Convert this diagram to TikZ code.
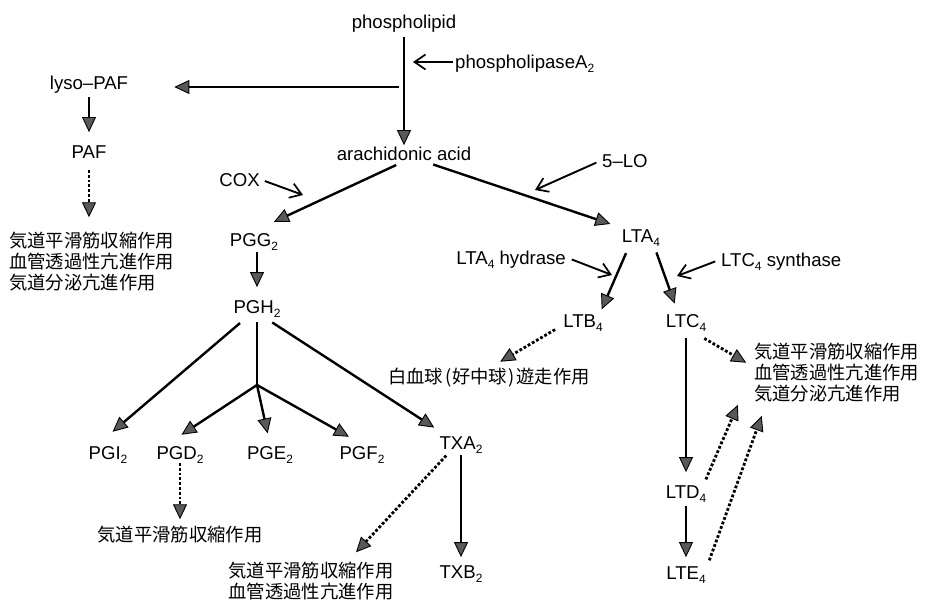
\documentclass[tikz,border=0pt]{standalone}
\usepackage{fontspec}
\setmainfont{Liberation Sans}
\newfontfamily\jp{Noto Sans CJK JP}
\usetikzlibrary{arrows.meta}
\newcommand{\dn}[1]{\raisebox{-0.22em}{\fontsize{12}{12}\selectfont #1}}
\begin{document}
\begin{tikzpicture}[x=1pt, y=-1pt,
  lb/.style={font=\fontsize{18.6}{21}\selectfont, inner sep=2pt, text height=13.4pt, text depth=0pt},
  fx/.style={font=\fontsize{18.3}{21}\selectfont\jp, inner sep=0pt},
  ar/.style={line width=2.4pt, -{Triangle[length=15pt, width=14pt, fill=black!65, line width=0.9pt]}},
  dt/.style={ar, line width=2.8pt, dash pattern=on 2.8pt off 2pt},
  ez/.style={line width=1.9pt, -{Straight Barb[length=11pt, width=15pt, line width=1.7pt]}}]
\useasboundingbox (0,0) rectangle (925,604);
% phospholipid -> arachidonic acid, lyso-PAF
\node[lb] (pl) at (404,22) {phospholipid};
\node[lb, anchor=west] (plase) at (453,62) {phospholipaseA\dn{2}};
\node[lb] (aa) at (404,154) {arachidonic acid};
\node[lb] (lyso) at (89,83) {lyso--PAF};
\node[lb] (paf) at (89,152) {PAF};
\node[fx, align=left, anchor=west] (fx1) at (9,262) {気道平滑筋収縮作用\\血管透過性亢進作用\\気道分泌亢進作用};
\coordinate (m1) at (399,87);
\coordinate (c1) at (413,62);
% COX branch
\node[lb, anchor=east] (cox) at (262,180) {COX};
\node[lb] (pgg) at (254,240) {PGG\dn{2}};
\node[lb] (pgh) at (257,307) {PGH\dn{2}};
\node[lb] (pgi) at (108,453) {PGI\dn{2}};
\node[lb] (pgd) at (180,453) {PGD\dn{2}};
\node[lb] (pge) at (270,453) {PGE\dn{2}};
\node[lb] (pgf) at (362,453) {PGF\dn{2}};
\node[lb] (txa) at (461,443) {TXA\dn{2}};
\node[lb] (txb) at (461,572) {TXB\dn{2}};
\node[fx] (fx2) at (180,535) {気道平滑筋収縮作用};
\node[fx, align=center] (fx5) at (311,581) {気道平滑筋収縮作用\\血管透過性亢進作用};
\coordinate (c2) at (303,195);
\coordinate (j) at (257,385);
% 5-LO branch
\node[lb, anchor=west] (lo) at (600,161) {5--LO};
\node[lb] (lta) at (641,236) {LTA\dn{4}};
\node[lb, anchor=east] (hyd) at (568,258) {LTA\dn{4} hydrase};
\node[lb, anchor=west] (syn) at (719,260) {LTC\dn{4} synthase};
\node[lb] (ltb) at (583,321) {LTB\dn{4}};
\node[lb] (ltc) at (686,321) {LTC\dn{4}};
\node[fx] (fx3) at (489,378) {白血球\kern2pt(\kern1pt好中球\kern1pt)\kern2pt遊走作用};
\node[fx, align=left, anchor=west] (fx4) at (754,373) {気道平滑筋収縮作用\\血管透過性亢進作用\\気道分泌亢進作用};
\node[lb] (ltd) at (686,492) {LTD\dn{4}};
\node[lb] (lte) at (686,573) {LTE\dn{4}};
\coordinate (c3) at (535,190);
\coordinate (c4) at (612,275);
\coordinate (c5) at (677,276);
% enzymes
\draw[ez] (plase.west) -- (c1);
\draw[ez, shorten <=3pt] (cox.east) -- (c2);
\draw[ez, shorten <=4pt] (lo.west) -- (c3);
\draw[ez, shorten <=4pt] (hyd.east) -- (c4);
\draw[ez, shorten <=4pt] (syn.west) -- (c5);
% pathways
\draw[ar, shorten <=6pt] (pl.south) -- (aa.north);
\draw[ar, shorten >=44pt] (m1) -- (m1 -| lyso.east);
\draw[ar, shorten <=5pt, shorten >=11pt] (lyso.south) -- (paf.north);
\draw[dt, shorten <=9pt, shorten >=15pt] (paf.south) -- (paf.south |- fx1.north);
\draw[ar, shorten <=5pt, shorten >=22pt] (aa.250) -- (pgg.north);
\draw[ar, shorten <=5pt, shorten >=10pt] (aa.-20) -- (lta.north west);
\draw[ar, shorten <=3pt, shorten >=11pt] (pgh |- pgg.south) -- (pgh.north);
\draw[ar, shorten <=11pt, shorten >=19pt] (pgh.226) -- (pgi.138);
\draw[line width=2.4pt, shorten <=6pt] (pgh.south) -- (j);
\draw[ar, shorten >=17pt] (j) -- (pgd.145);
\draw[ar, shorten >=11pt] (j) -- (pge.north);
\draw[ar, shorten >=15pt] (j) -- (pgf.north);
\draw[ar, shorten <=12pt, shorten >=12pt] (pgh.-60) -- (txa.152);
\draw[dt, shorten <=1pt, shorten >=7pt] (pgd.south) -- (fx2.north);
\draw[dt, shorten <=5pt, shorten >=13pt] (txa.218) -- (fx5.28);
\draw[ar, shorten <=3pt, shorten >=6pt] (txa.south) -- (txb.north);
\draw[ar, shorten <=9pt, shorten >=3pt] (lta.218) -- (ltb.27);
\draw[ar, shorten <=8pt, shorten >=9pt] (lta.-35) -- (ltc.133);
\draw[dt, shorten <=7pt, shorten >=13pt] (ltb.193) -- (fx3.north);
\draw[dt, shorten <=17pt, shorten >=9pt] (ltc.-68) -- (fx4.176);
\draw[ar, shorten <=8pt, shorten >=11pt] (ltc.south) -- (ltd.north);
\draw[ar, shorten <=5pt, shorten >=7pt] (ltd.south) -- (lte.north);
\draw[dt, shorten <=4pt, shorten >=41pt] (ltd.26) -- (fx4.176);
\draw[dt, shorten <=4pt, shorten >=14pt] (lte.north east) -- (fx4.203);
\end{tikzpicture}
\end{document}
